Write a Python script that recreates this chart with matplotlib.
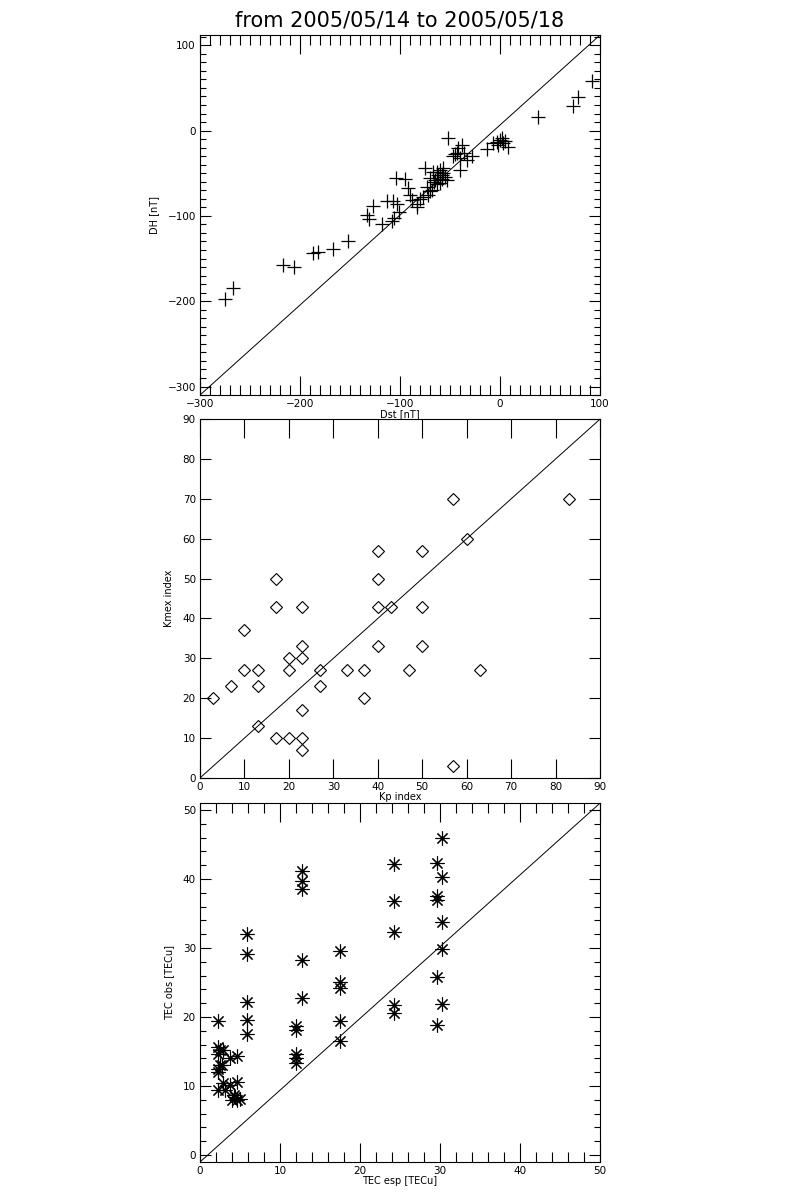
import numpy as np
import matplotlib
matplotlib.use("Agg")
import matplotlib.pyplot as plt
from matplotlib.ticker import MultipleLocator

# --- panel 1: Dst vs DH
dst = [-275, -267, -217, -206, -187, -182, -167, -152, -133, -131, -127, -118,
       -113, -107, -108, -106, -103, -101, -104, -95, -92, -90, -88, -83, -83,
       -77, -75, -72, -70, -70, -67, -63, -63, -62, -60, -58, -57, -55, -53,
       -52, -47, -43, -42, -38, -40, -40, -33, -28, -13, -7, -3, 0, 2, 3, 8,
       38, 73, 78, 92, -66, -60, -57, -80, -68, -45, 5, -2, -36, -65, -73, -58]
dh = [-198, -185, -157, -160, -143, -142, -139, -129, -99, -104, -88, -110,
      -83, -83, -106, -102, -86, -96, -55, -57, -67, -75, -81, -86, -90,
      -78, -44, -75, -71, -55, -48, -48, -63, -52, -46, -57, -50, -54, -58,
      -9, -30, -26, -21, -17, -32, -46, -34, -30, -22, -15, -13, -11, -9, -15, -19,
      16, 29, 39, 58, -60, -62, -44, -80, -70, -28, -12, -17, -26, -58, -66, -52]

# --- panel 2: Kp vs Kmex
kp = [3, 7, 10, 10, 13, 13, 13, 17, 17, 17, 20, 20, 20, 23, 23, 23, 23, 23, 23,
      27, 27, 33, 37, 37, 40, 40, 40, 40, 43, 47, 50, 50, 50, 57, 57, 60, 63, 83]
kmex = [20, 23, 37, 27, 27, 23, 13, 50, 43, 10, 30, 27, 10, 43, 33, 30, 17, 10, 7,
        27, 23, 27, 27, 20, 57, 50, 43, 33, 43, 27, 57, 43, 33, 70, 3, 60, 27, 70]

# --- panel 3: TEC esp vs TEC obs
tec_esp = [2.3, 2.3, 2.5, 2.3, 2.5, 2.3, 2.3, 2.3, 2.9, 2.9, 3.1, 2.7, 3.7, 3.7,
           4.0, 4.2, 4.6, 4.6, 4.6, 5.0, 4.4,
           5.9, 5.9, 5.9, 5.9, 5.9,
           12.0, 12.0, 12.0, 12.0, 12.0,
           12.7, 12.7, 12.7, 12.7, 12.7,
           17.5, 17.5, 17.5, 17.5, 17.5,
           24.2, 24.2, 24.2, 24.2, 24.2,
           29.6, 29.6, 29.6, 29.6, 29.6,
           30.3, 30.3, 30.3, 30.3, 30.3]
tec_obs = [19.4, 15.6, 15.2, 14.7, 13.0, 12.5, 12.1, 9.5, 15.2, 10.4, 9.4, 13.0,
           14.1, 10.1, 8.0, 8.7, 14.3, 10.6, 8.0, 8.1, 8.4,
           32.1, 29.1, 22.2, 19.6, 17.5,
           18.7, 18.1, 14.7, 14.0, 13.3,
           41.2, 39.7, 38.5, 28.2, 22.7,
           29.6, 25.1, 24.2, 19.4, 16.6,
           42.2, 36.8, 32.4, 21.7, 20.6,
           42.3, 37.6, 37.0, 25.8, 18.9,
           45.9, 40.3, 33.8, 29.8, 21.9]

title = "from 2005/05/14 to 2005/05/18"


def style_axes(ax, xmaj, ymaj, xmin=None, ymin=None):
    ax.xaxis.set_major_locator(MultipleLocator(xmaj))
    ax.yaxis.set_major_locator(MultipleLocator(ymaj))
    if xmin:
        ax.xaxis.set_minor_locator(MultipleLocator(xmin))
    if ymin:
        ax.yaxis.set_minor_locator(MultipleLocator(ymin))
    ax.tick_params(axis="both", which="both", direction="in",
                   top=True, right=True, labelsize=7.5, width=0.8, pad=3)
    ax.tick_params(axis="x", which="major", length=14)
    ax.tick_params(axis="x", which="minor", length=7)
    ax.tick_params(axis="y", which="major", length=8)
    ax.tick_params(axis="y", which="minor", length=4)
    for s in ax.spines.values():
        s.set_linewidth(0.8)
    # reference line, corner to corner
    ax.plot([0, 1], [0, 1], transform=ax.transAxes, color="black", lw=0.7)


fig = plt.figure(figsize=(8, 12), dpi=100)

ax1 = fig.add_axes([0.25, 0.6708, 0.5, 0.3])
ax1.plot(dst, dh, ls="none", marker="+", ms=10, mew=0.9, color="black")
ax1.set_xlim(-300, 100)
ax1.set_ylim(-310, 112)
style_axes(ax1, 100, 100, 10, 10)
ax1.set_xlabel("Dst [nT]", fontsize=7, labelpad=0)
ax1.set_ylabel("DH [nT]", fontsize=7, labelpad=6)
ax1.set_title(title, fontsize=15, pad=6)

ax2 = fig.add_axes([0.25, 0.3517, 0.5, 0.299])
ax2.plot(kp, kmex, ls="none", marker="D", ms=6, mew=0.8,
         mfc="none", mec="black")
ax2.set_xlim(0, 90)
ax2.set_ylim(0, 90)
style_axes(ax2, 10, 10)
ax2.set_xlabel("Kp index", fontsize=7, labelpad=0)
ax2.set_ylabel("Kmex index", fontsize=7, labelpad=6)

ax3 = fig.add_axes([0.25, 0.0317, 0.5, 0.299])
ax3.plot(tec_esp, tec_obs, ls="none", marker=(8, 2, 0), ms=10, mew=0.8,
         color="black")
ax3.set_xlim(0, 50)
ax3.set_ylim(-1, 51)
style_axes(ax3, 10, 10, 2, 2)
ax3.set_xlabel("TEC esp [TECu]", fontsize=7, labelpad=0)
ax3.set_ylabel("TEC obs [TECu]", fontsize=7, labelpad=6)

fig.savefig("out.png", dpi=100, facecolor="white")
